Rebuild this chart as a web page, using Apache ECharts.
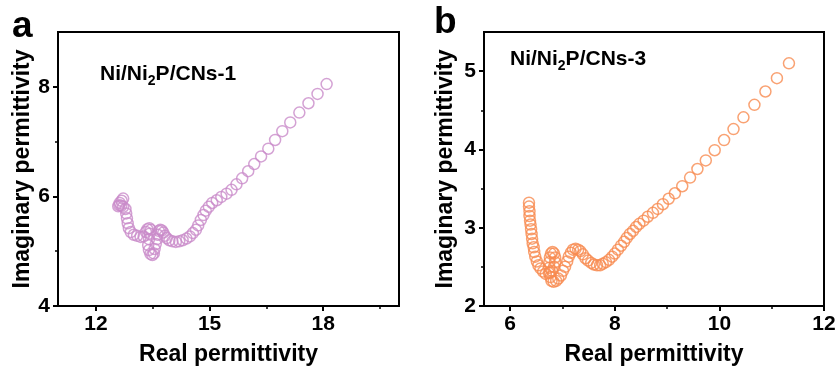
<!DOCTYPE html>
<html>
<head>
<meta charset="utf-8">
<script src="https://cdn.jsdelivr.net/npm/echarts@6/dist/echarts.min.js"></script>
<style>
html,body{margin:0;padding:0;background:#fff;}
#chart{width:839px;height:374px;}
</style>
</head>
<body>
<div id="chart"></div>
<script>
// Ni/Ni2P/CNs-1 : real vs imaginary permittivity
const realA = [18.09,17.85,17.61,17.37,17.13,16.92,16.73,16.55,16.36,16.18,16.02,15.86,15.71,15.58,15.45,15.31,15.19,
  15.07,14.98,14.90,14.84,14.77,14.70,14.64,14.56,14.48,14.39,14.29,14.20,14.11,14.02,13.94,13.87,13.82,13.78,13.74,13.70,
  13.66,13.63,13.61,13.58,13.55,13.53,13.49,13.44,13.40,13.38,13.40,13.42,13.45,13.41,13.36,13.32,13.26,13.18,13.09,13.00,
  12.92,12.87,12.84,12.82,12.80,12.78,12.72,12.67,12.62,12.59,12.63,12.68,12.72];
const imagA = [8.05,7.87,7.70,7.53,7.35,7.19,7.03,6.87,6.73,6.59,6.46,6.33,6.22,6.12,6.05,5.99,5.93,
  5.88,5.81,5.74,5.66,5.57,5.47,5.39,5.33,5.27,5.23,5.20,5.18,5.17,5.18,5.20,5.24,5.28,5.34,5.38,5.39,
  5.37,5.30,5.22,5.13,5.04,4.96,4.93,4.95,5.02,5.11,5.22,5.32,5.39,5.42,5.40,5.35,5.27,5.26,5.28,5.30,
  5.35,5.42,5.51,5.60,5.69,5.77,5.81,5.83,5.84,5.82,5.88,5.92,5.96];

// Ni/Ni2P/CNs-3 : real vs imaginary permittivity
const realB = [11.33,11.10,10.88,10.67,10.46,10.27,10.09,9.91,9.74,9.58,9.44,9.29,9.15,9.03,8.92,8.82,8.73,8.63,8.55,8.47,
  8.41,8.35,8.29,8.23,8.18,8.12,8.06,8.00,7.95,7.89,7.83,7.77,7.72,7.66,7.60,7.55,7.49,7.44,7.39,7.34,7.30,7.25,
  7.20,7.16,7.12,7.09,7.05,7.01,6.97,6.92,6.88,6.83,6.79,6.77,6.76,6.75,6.75,6.76,6.78,6.81,6.84,6.86,6.86,6.84,
  6.80,6.74,6.68,6.63,6.58,6.54,6.51,6.48,6.46,6.45,6.43,6.42,6.41,6.40,6.39,6.38,6.37,6.37,6.36,6.36];
const imagB = [5.10,4.91,4.74,4.57,4.41,4.26,4.12,3.99,3.86,3.75,3.64,3.53,3.44,3.37,3.30,3.24,3.19,3.14,3.09,3.05,
  3.01,2.96,2.92,2.87,2.82,2.77,2.72,2.67,2.63,2.59,2.56,2.54,2.52,2.52,2.53,2.55,2.58,2.61,2.66,2.70,2.72,2.73,
  2.72,2.68,2.63,2.57,2.50,2.45,2.39,2.35,2.32,2.31,2.32,2.37,2.43,2.49,2.56,2.62,2.67,2.69,2.67,2.62,2.56,2.50,
  2.45,2.42,2.41,2.44,2.48,2.52,2.57,2.63,2.69,2.75,2.80,2.86,2.92,2.98,3.04,3.09,3.15,3.21,3.27,3.32];

// axis ticks
const xMajorA = [12, 15, 18];
const xMinorA = [13.5, 16.5, 19.5];
const yMajorA = [4, 6, 8];
const yMinorA = [5, 7];
const xMajorB = [6, 8, 10, 12];
const xMinorB = [7, 9, 11];
const yMajorB = [2, 3, 4, 5];
const yMinorB = [2.5, 3.5, 4.5];

const FONT = '"Liberation Sans", Arial, sans-serif';

function pairs(xs, ys) { return xs.map((x, i) => [x, ys[i]]); }

function xAxes(grid, min, max, major, minor) {
  return [{
    type: 'value', gridIndex: grid, min: min, max: max, position: 'bottom',
    name: 'Real permittivity', nameLocation: 'middle', nameGap: 37,
    nameTextStyle: { fontFamily: FONT, fontWeight: 'bold', fontSize: 23, color: '#000' },
    axisLine: { show: true, onZero: false, lineStyle: { color: '#000', width: 2 } },
    axisTick: { show: true, inside: false, length: 5, customValues: major, lineStyle: { color: '#000', width: 2 } },
    axisLabel: { show: true, customValues: major, margin: 8, fontFamily: FONT, fontWeight: 'bold', fontSize: 21, color: '#000' },
    splitLine: { show: false }
  }, {
    type: 'value', gridIndex: grid, min: min, max: max, position: 'bottom',
    axisLine: { show: false },
    axisTick: { show: true, inside: false, length: 3, customValues: minor, lineStyle: { color: '#000', width: 1.5 } },
    axisLabel: { show: false },
    splitLine: { show: false }
  }];
}

function yAxes(grid, min, max, major, minor, gap) {
  return [{
    type: 'value', gridIndex: grid, min: min, max: max, position: 'left',
    name: 'Imaginary permittivity', nameLocation: 'middle', nameGap: gap,
    nameTextStyle: { fontFamily: FONT, fontWeight: 'bold', fontSize: 23, color: '#000' },
    axisLine: { show: true, onZero: false, lineStyle: { color: '#000', width: 2 } },
    axisTick: { show: true, inside: false, length: 5, customValues: major, lineStyle: { color: '#000', width: 2 } },
    axisLabel: { show: true, customValues: major, margin: 8, fontFamily: FONT, fontWeight: 'bold', fontSize: 21, color: '#000' },
    splitLine: { show: false }
  }, {
    type: 'value', gridIndex: grid, min: min, max: max, position: 'left',
    axisLine: { show: false },
    axisTick: { show: true, inside: false, length: 3, customValues: minor, lineStyle: { color: '#000', width: 1.5 } },
    axisLabel: { show: false },
    splitLine: { show: false }
  }];
}

function sampleLabel(text, suffix, left, top) {
  return {
    type: 'text', left: left, top: top,
    style: {
      text: '{n|' + text + '}{s|2}{n|' + suffix + '}',
      rich: {
        n: { fontFamily: FONT, fontWeight: 'bold', fontSize: 21, fill: '#000' },
        s: { fontFamily: FONT, fontWeight: 'bold', fontSize: 14, fill: '#000', padding: [13, 0, 0, 0] }
      }
    }
  };
}

const chart = echarts.init(document.getElementById('chart'), null, { renderer: 'canvas' });
chart.setOption({
  animation: false,
  backgroundColor: '#fff',
  grid: [
    { left: 58, top: 32, width: 341, height: 274, show: true, borderColor: '#000', borderWidth: 2, backgroundColor: 'transparent' },
    { left: 484, top: 32, width: 340, height: 274, show: true, borderColor: '#000', borderWidth: 2, backgroundColor: 'transparent' }
  ],
  xAxis: [...xAxes(0, 11, 20, xMajorA, xMinorA), ...xAxes(1, 5.5, 12, xMajorB, xMinorB)],
  yAxis: [...yAxes(0, 4, 9, yMajorA, yMinorA, 23), ...yAxes(1, 2, 5.5, yMajorB, yMinorB, 27)],
  series: [
    {
      type: 'scatter', xAxisIndex: 0, yAxisIndex: 0, symbol: 'circle', symbolSize: 11,
      itemStyle: { color: 'rgba(0,0,0,0)', borderColor: '#C98BC9', borderWidth: 1.5 },
      data: pairs(realA, imagA)
    },
    {
      type: 'scatter', xAxisIndex: 2, yAxisIndex: 2, symbol: 'circle', symbolSize: 11,
      itemStyle: { color: 'rgba(0,0,0,0)', borderColor: '#F78B50', borderWidth: 1.5 },
      data: pairs(realB, imagB)
    }
  ],
  graphic: [
    { type: 'text', left: 12, top: 8, style: { text: 'a', fontFamily: FONT, fontWeight: 'bold', fontSize: 37, fill: '#000' } },
    { type: 'text', left: 434, top: 4, style: { text: 'b', fontFamily: FONT, fontWeight: 'bold', fontSize: 37, fill: '#000' } },
    sampleLabel('Ni/Ni', 'P/CNs-1', 100, 64),
    sampleLabel('Ni/Ni', 'P/CNs-3', 510, 49)
  ]
});
</script>
</body>
</html>
